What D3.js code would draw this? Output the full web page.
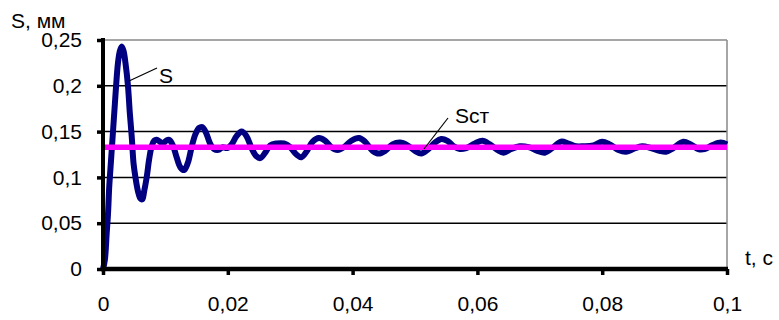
<!DOCTYPE html>
<html>
<head>
<meta charset="utf-8">
<script src="https://cdn.jsdelivr.net/npm/d3@7"></script>
<style>
  body { margin: 0; background: #fff; }
  text { font-family: "Liberation Sans", Arial, sans-serif; }
</style>
</head>
<body>
<svg width="779" height="320"></svg>
<script>
// data
var tValues = [0, 0.0003, 0.0006, 0.0008, 0.0010, 0.0012, 0.0014, 0.0016, 0.0019, 0.0021,
  0.0024, 0.0027, 0.0030, 0.0033, 0.0036, 0.0040, 0.0043, 0.0046, 0.0049, 0.0052,
  0.0056, 0.0060, 0.0063, 0.0066, 0.0070, 0.0074, 0.0078, 0.0082, 0.0086, 0.0091,
  0.0096, 0.0101, 0.0106, 0.0112, 0.0118, 0.0124, 0.0130, 0.0136, 0.0142, 0.0148,
  0.0154, 0.0159, 0.0165, 0.0171, 0.0178, 0.0185, 0.0192, 0.0199, 0.0206, 0.0214,
  0.0222, 0.0230, 0.0238, 0.0246, 0.0252, 0.0260, 0.0268, 0.0278, 0.0290, 0.0300,
  0.0310, 0.0318, 0.0326, 0.0336, 0.0346, 0.0356, 0.0366, 0.0376, 0.0386, 0.0398,
  0.0410, 0.0420, 0.0432, 0.0442, 0.0452, 0.0464, 0.0476, 0.0488, 0.0500, 0.0510,
  0.0520, 0.0532, 0.0542, 0.0552, 0.0562, 0.0572, 0.0582, 0.0596, 0.0608, 0.0620,
  0.0632, 0.0642, 0.0654, 0.0668, 0.0682, 0.0696, 0.0708, 0.0720, 0.0734, 0.0746,
  0.0758, 0.0770, 0.0786, 0.0800, 0.0812, 0.0826, 0.0838, 0.0850, 0.0864, 0.0878,
  0.0892, 0.0902, 0.0914, 0.0930, 0.0942, 0.0954, 0.0964, 0.0976, 0.0990, 0.1000];
var sValues = [0, 0.01, 0.04, 0.06, 0.09, 0.11, 0.13, 0.15, 0.18, 0.20,
  0.225, 0.238, 0.243, 0.238, 0.225, 0.20, 0.17, 0.145, 0.115, 0.10,
  0.085, 0.077, 0.076, 0.085, 0.10, 0.12, 0.134, 0.140, 0.141, 0.139,
  0.137, 0.140, 0.141, 0.135, 0.122, 0.111, 0.108, 0.116, 0.133, 0.147,
  0.154, 0.155, 0.149, 0.138, 0.131, 0.130, 0.133, 0.132, 0.136, 0.145,
  0.150, 0.145, 0.132, 0.123, 0.121, 0.127, 0.135, 0.137, 0.137, 0.133,
  0.125, 0.122, 0.128, 0.139, 0.143, 0.140, 0.133, 0.130, 0.133, 0.140,
  0.143, 0.139, 0.129, 0.126, 0.129, 0.136, 0.138, 0.135, 0.129, 0.126,
  0.130, 0.138, 0.142, 0.140, 0.134, 0.131, 0.132, 0.137, 0.140, 0.136,
  0.130, 0.127, 0.131, 0.134, 0.133, 0.129, 0.127, 0.132, 0.139, 0.137,
  0.134, 0.134, 0.135, 0.139, 0.136, 0.130, 0.128, 0.131, 0.134, 0.132,
  0.129, 0.128, 0.132, 0.139, 0.136, 0.131, 0.131, 0.135, 0.138, 0.136];
var sStatic = 0.133;

var yTicks = [0, 0.05, 0.1, 0.15, 0.2, 0.25];
var yTickLabels = ["0", "0,05", "0,1", "0,15", "0,2", "0,25"];
var xTicks = [0, 0.02, 0.04, 0.06, 0.08, 0.1];
var xTickLabels = ["0", "0,02", "0,04", "0,06", "0,08", "0,1"];

var svg = d3.select("svg");
var fs = 21;

var x = d3.scaleLinear().domain([0, 0.1]).range([103, 727]);
var y = d3.scaleLinear().domain([0, 0.25]).range([269, 40]);

// horizontal gridlines
svg.append("g")
  .selectAll("line")
  .data(yTicks.slice(1))
  .enter().append("line")
    .attr("x1", x(0)).attr("x2", x(0.1))
    .attr("y1", function(d) { return y(d); })
    .attr("y2", function(d) { return y(d); })
    .attr("stroke", function(d) { return d === 0.25 ? "#888" : "#000"; })
    .attr("stroke-width", 1.5);

// right border of plot area
svg.append("line")
  .attr("x1", x(0.1)).attr("x2", x(0.1))
  .attr("y1", y(0.25)).attr("y2", y(0))
  .attr("stroke", "#888").attr("stroke-width", 1.5);

// S curve
var pts = tValues.map(function(t, i) { return [t, sValues[i]]; });
var line = d3.line()
  .x(function(d) { return x(d[0]); })
  .y(function(d) { return y(d[1]); })
  .curve(d3.curveCatmullRom);

svg.append("path")
  .datum(pts)
  .attr("fill", "none")
  .attr("stroke", "#000080")
  .attr("stroke-width", 6)
  .attr("stroke-linejoin", "round")
  .attr("d", line);

// static line
svg.append("path")
  .datum([[0, sStatic], [0.1, sStatic]])
  .attr("fill", "none")
  .attr("stroke", "#ff00ff")
  .attr("stroke-width", 5.5)
  .attr("d", d3.line().x(function(d) { return x(d[0]); }).y(function(d) { return y(d[1]); }));

// axes
var yAxis = d3.axisLeft(y)
  .tickValues(yTicks)
  .tickFormat(function(d, i) { return yTickLabels[i]; })
  .tickSize(6).tickSizeOuter(0).tickPadding(15);
var gy = svg.append("g").attr("transform", "translate(" + x(0) + ",0)").call(yAxis);
gy.select(".domain").attr("stroke-width", 4).attr("d", "M0," + (y(0.25) - 2) + "V" + (y(0) + 2));
gy.selectAll(".tick line").attr("stroke-width", 3.5);
gy.selectAll(".tick text").attr("font-size", fs).attr("fill", "#000")
  .attr("font-family", "Liberation Sans, Arial, sans-serif");

var xAxis = d3.axisBottom(x)
  .tickValues(xTicks)
  .tickFormat(function(d, i) { return xTickLabels[i]; })
  .tickSize(6).tickSizeOuter(0).tickPadding(21);
var gx = svg.append("g").attr("transform", "translate(0," + y(0) + ")").call(xAxis);
gx.select(".domain").attr("stroke-width", 4.5).attr("d", "M" + (x(0) - 2) + ",0H" + (x(0.1) + 1));
gx.selectAll(".tick line").attr("stroke-width", 3.5);
gx.selectAll(".tick text").attr("font-size", fs).attr("fill", "#000")
  .attr("font-family", "Liberation Sans, Arial, sans-serif");

// axis titles
svg.append("text").attr("x", 11).attr("y", 28).attr("font-size", fs).text("S, мм");
svg.append("text").attr("x", 745).attr("y", 265).attr("font-size", fs).text("t, с");

// curve labels with leader lines
svg.append("line").attr("x1", 129).attr("y1", 81).attr("x2", 157).attr("y2", 68)
  .attr("stroke", "#000").attr("stroke-width", 1.2);
svg.append("text").attr("x", 159).attr("y", 83).attr("font-size", fs).text("S");

svg.append("line").attr("x1", 424).attr("y1", 149).attr("x2", 448).attr("y2", 118)
  .attr("stroke", "#000").attr("stroke-width", 1.2);
svg.append("text").attr("x", 455).attr("y", 123).attr("font-size", fs).text("Sст");
</script>
</body>
</html>
